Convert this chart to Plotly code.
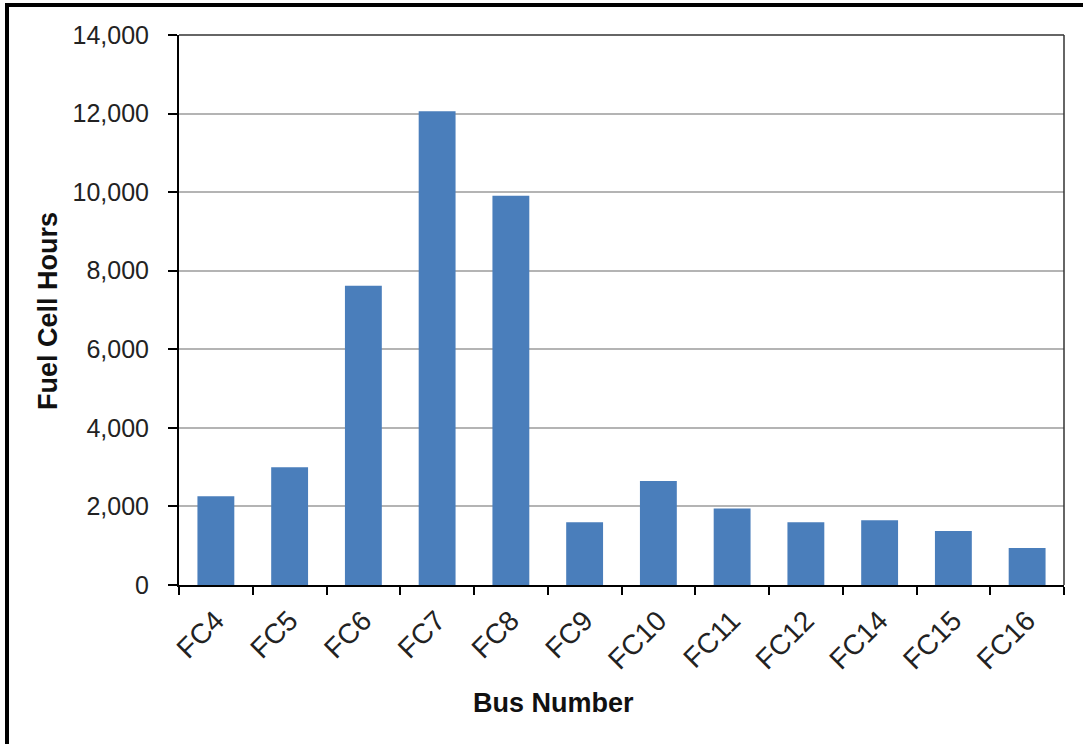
import plotly.graph_objects as go

buses = ["FC4", "FC5", "FC6", "FC7", "FC8", "FC9", "FC10", "FC11", "FC12", "FC14", "FC15", "FC16"]
hours = [2260, 3000, 7620, 12060, 9910, 1600, 2650, 1950, 1600, 1650, 1375, 940]

W, H = 1083, 744
L, R, T, B = 179, 1064, 35, 585  # plot area pixel box
pw, ph = R - L, B - T

def px(x):
    return (x - L) / pw

def py(y):
    return (B - y) / ph

FONT = "Arial, Liberation Sans, sans-serif"

fig = go.Figure(
    go.Bar(x=buses, y=hours, marker=dict(color="#4a7ebb", line=dict(width=0)), width=0.5)
)

fig.update_layout(
    width=W,
    height=H,
    margin=dict(l=L, r=W - R, t=T, b=H - B),
    paper_bgcolor="white",
    plot_bgcolor="white",
    showlegend=False,
    font=dict(family=FONT, size=25, color="#222222"),
    bargap=0.5,
)

fig.update_yaxes(
    range=[0, 14000],
    dtick=2000,
    tickformat=",",
    showgrid=True,
    gridcolor="#b4b4b4",
    gridwidth=2,
    zeroline=False,
    showline=True,
    linecolor="black",
    linewidth=2,
    ticks="outside",
    ticklen=9,
    tickwidth=1.5,
    tickcolor="black",
    ticklabelstandoff=14,
    tickfont=dict(family=FONT, size=25, color="#222222"),
)

fig.update_xaxes(
    showgrid=False,
    showline=True,
    linecolor="black",
    linewidth=2,
    ticks="outside",
    tickson="boundaries",
    ticklen=8,
    tickwidth=1.5,
    tickcolor="black",
    tickangle=-45,
    ticklabelstandoff=6,
    tickfont=dict(family=FONT, size=28, color="#222222"),
)

# plot-area top and right border
fig.add_shape(type="line", xref="paper", yref="paper", x0=0, x1=1, y0=1, y1=1,
              line=dict(color="#333333", width=1.5))
fig.add_shape(type="line", xref="paper", yref="paper", x0=1, x1=1, y0=0, y1=1,
              line=dict(color="#333333", width=1.5))

# outer chart frame
fig.add_shape(type="rect", xref="paper", yref="paper",
              x0=px(7), x1=px(1095), y0=py(755), y1=py(5),
              line=dict(color="black", width=4), fillcolor="rgba(0,0,0,0)")

fig.add_annotation(text="<b>Fuel Cell Hours</b>", xref="paper", yref="paper",
                   x=px(48), y=py(311), textangle=-90, showarrow=False,
                   font=dict(family=FONT, size=27, color="#111111"),
                   xanchor="center", yanchor="middle")
fig.add_annotation(text="<b>Bus Number</b>", xref="paper", yref="paper",
                   x=px(553), y=py(703), showarrow=False,
                   font=dict(family=FONT, size=27, color="#111111"),
                   xanchor="center", yanchor="middle")

fig.write_html("out.html")
